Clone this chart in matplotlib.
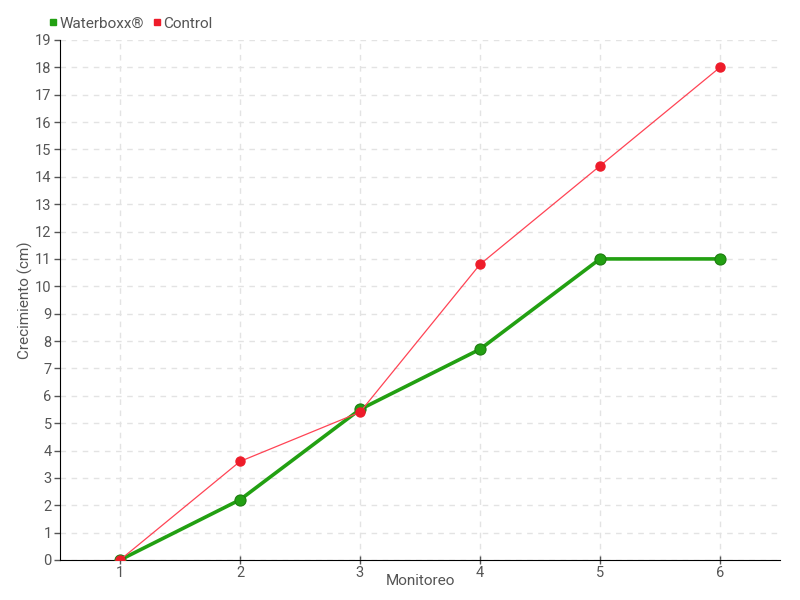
import matplotlib
matplotlib.use("Agg")
import matplotlib.pyplot as plt
from matplotlib.lines import Line2D

plt.rcParams['font.family'] = ['Roboto', 'DejaVu Sans']

monitoreo = [1, 2, 3, 4, 5, 6]
waterboxx = [0, 2.2, 5.5, 7.7, 11.0, 11.0]
control = [0, 3.6, 5.4, 10.8, 14.4, 18.0]
y_ticks = list(range(0, 20))

GREEN = "#22a012"
RED = "#ee1c2a"
TXT = "#555555"

fig = plt.figure(figsize=(8, 6), dpi=100)
ax = fig.add_axes([0.075, 0.0667, 0.9, 0.8667])

ax.plot(monitoreo, waterboxx, color=GREEN, lw=2.6, marker="o", ms=8,
        mfc=GREEN, mec="#1d7d10", mew=0.8, zorder=3)
ax.plot(monitoreo, control, color="#ff4455", lw=0.9, marker="o", ms=6.5,
        mfc=RED, mec=RED, zorder=4)

ax.set_xlim(0.5, 6.5)
ax.set_ylim(0, 19)
ax.set_xticks(monitoreo)
ax.set_yticks(y_ticks)
ax.grid(True, color="#e3e3e3", linestyle=(0, (4, 4)), lw=1)
ax.set_axisbelow(True)

for s in ["top", "right"]:
    ax.spines[s].set_visible(False)
ax.spines["left"].set_color("black")
ax.spines["bottom"].set_color("black")

ax.tick_params(axis="both", colors=TXT, labelsize=10.5, length=4, width=1, pad=2)
ax.tick_params(axis="x", direction="inout", length=6, pad=1)
ax.tick_params(axis="y", length=4)
for t in ax.get_xticklines() + ax.get_yticklines():
    t.set_color("black")

ax.set_xlabel("Monitoreo", color=TXT, fontsize=11)
ax.set_ylabel("Crecimiento (cm)", color=TXT, fontsize=11)
ax.xaxis.set_label_coords(0.5, -0.026)
ax.yaxis.set_label_coords(-0.037, 0.5)

handles = [
    Line2D([], [], ls="", marker="s", ms=4.5, color=GREEN, label="Waterboxx®"),
    Line2D([], [], ls="", marker="s", ms=4.5, color=RED, label="Control"),
]
fig.legend(handles=handles, loc="upper left", bbox_to_anchor=(0.043, 0.995),
           ncol=2, frameon=False, fontsize=11, handletextpad=0.05,
           columnspacing=0.5, handlelength=0.7, labelcolor=TXT)

fig.savefig("out.png", dpi=100)
